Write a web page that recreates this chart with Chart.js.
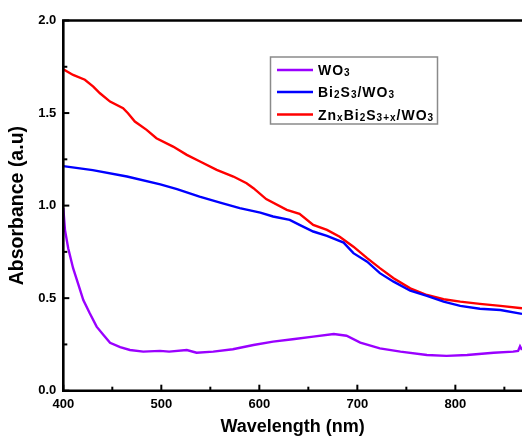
<!DOCTYPE html>
<html>
<head>
<meta charset="utf-8">
<script src="https://cdn.jsdelivr.net/npm/chart.js@4.4.1/dist/chart.umd.min.js"></script>
<style>
  html, body { margin: 0; padding: 0; background: #fff; }
  #uv { display: block; }
</style>
</head>
<body>
<canvas id="uv" width="522" height="438"></canvas>
<script>
// UV-vis absorbance spectra
const wlWO3 = [400, 401.7, 405, 410, 415, 420.4, 427, 434, 441, 447.7, 458, 468, 481.6, 498.7, 508, 526, 536, 553, 573, 594, 614, 634, 655, 676, 689, 703, 723, 744, 771, 791, 812, 839, 859, 864, 866, 868];
const absWO3 = [0.986, 0.869, 0.77, 0.662, 0.58, 0.49, 0.418, 0.346, 0.301, 0.259, 0.235, 0.22, 0.211, 0.215, 0.211, 0.22, 0.205, 0.211, 0.224, 0.247, 0.265, 0.278, 0.292, 0.306, 0.297, 0.26, 0.229, 0.211, 0.193, 0.188, 0.193, 0.205, 0.211, 0.215, 0.24, 0.22];

const wlBi = [400, 430, 465, 499, 516, 539, 560, 580, 601, 614, 631, 641, 655, 669, 686, 696, 710, 723, 737, 754, 771, 788, 805, 825, 846, 868];
const absBi = [1.213, 1.192, 1.157, 1.115, 1.089, 1.049, 1.016, 0.986, 0.962, 0.941, 0.923, 0.896, 0.86, 0.836, 0.80, 0.743, 0.697, 0.635, 0.589, 0.54, 0.512, 0.481, 0.458, 0.443, 0.436, 0.415];

const wlZn = [400, 410, 422, 430.6, 437.4, 447.7, 461, 466, 473, 485, 495, 512, 526, 539.5, 556.5, 573.5, 587, 594, 607, 628, 641, 655, 669, 682, 696, 710, 723, 737, 754, 771, 788, 805, 825, 846, 868];
const absZn = [1.737, 1.706, 1.68, 1.643, 1.607, 1.562, 1.526, 1.499, 1.454, 1.409, 1.364, 1.319, 1.274, 1.238, 1.193, 1.157, 1.121, 1.094, 1.035, 0.977, 0.955, 0.896, 0.869, 0.832, 0.778, 0.716, 0.662, 0.608, 0.553, 0.517, 0.494, 0.481, 0.469, 0.458, 0.445];

// legend text split into [text, subscript?] runs
const legendRuns = [
  [["WO", false], ["3", true]],
  [["Bi", false], ["2", true], ["S", false], ["3", true], ["/WO", false], ["3", true]],
  [["Zn", false], ["x", true], ["Bi", false], ["2", true], ["S", false], ["3+x", true], ["/WO", false], ["3", true]]
];
const lineColors = ["#9a00ff", "#0000ff", "#ff0000"];

const FONT = "'Liberation Sans', Arial, sans-serif";

function pts(xs, ys) {
  return xs.map((x, i) => ({ x: x, y: ys[i] }));
}

// frame with inward ticks
const framePlugin = {
  id: "frame",
  afterDatasetsDraw(chart) {
    const { ctx, chartArea: a, scales } = chart;
    ctx.save();
    ctx.strokeStyle = "#000";
    ctx.lineCap = "square";
    ctx.lineWidth = 2.6;
    ctx.beginPath();
    ctx.moveTo(a.right + 2, a.top);
    ctx.lineTo(a.left, a.top);
    ctx.lineTo(a.left, a.bottom);
    ctx.lineTo(a.right + 2, a.bottom);
    ctx.stroke();

    ctx.lineWidth = 2;
    ctx.lineCap = "butt";
    scales.x.ticks.forEach(t => {
      const px = scales.x.getPixelForValue(t.value);
      const len = t.value % 100 === 0 ? 6 : 4;
      ctx.beginPath();
      ctx.moveTo(px, a.bottom);
      ctx.lineTo(px, a.bottom - len);
      ctx.stroke();
    });
    scales.y.ticks.forEach(t => {
      const py = scales.y.getPixelForValue(t.value);
      const len = Math.abs(t.value * 2 - Math.round(t.value * 2)) < 1e-6 ? 6 : 4;
      ctx.beginPath();
      ctx.moveTo(a.left, py);
      ctx.lineTo(a.left + len, py);
      ctx.stroke();
    });
    ctx.restore();
  }
};

// legend box with subscripted chemical formulas
const formulaLegend = {
  id: "formulaLegend",
  afterDraw(chart) {
    const ctx = chart.ctx;
    const bx = 270.5, by = 57, bw = 167, bh = 67;
    ctx.save();
    ctx.fillStyle = "#fff";
    ctx.fillRect(bx, by, bw, bh);
    ctx.strokeStyle = "#8a8a8a";
    ctx.lineWidth = 1.5;
    ctx.strokeRect(bx, by, bw, bh);

    const rows = [70, 92, 114.5];
    legendRuns.forEach((runs, i) => {
      const y = rows[i];
      ctx.strokeStyle = lineColors[i];
      ctx.lineWidth = 2.6;
      ctx.beginPath();
      ctx.moveTo(277, y);
      ctx.lineTo(313, y);
      ctx.stroke();

      let x = 318;
      ctx.fillStyle = "#000";
      ctx.textBaseline = "alphabetic";
      ctx.textAlign = "left";
      ctx.letterSpacing = "1px";
      runs.forEach(([txt, sub]) => {
        ctx.font = "bold " + (sub ? 10 : 14) + "px " + FONT;
        ctx.fillText(txt, x, y + 5 + (sub ? 1 : 0));
        x += ctx.measureText(txt).width;
      });
    });
    ctx.restore();
  }
};

new Chart(document.getElementById("uv"), {
  type: "line",
  data: {
    datasets: [
      { label: "WO3", data: pts(wlWO3, absWO3), borderColor: lineColors[0] },
      { label: "Bi2S3/WO3", data: pts(wlBi, absBi), borderColor: lineColors[1] },
      { label: "ZnxBi2S3+x/WO3", data: pts(wlZn, absZn), borderColor: lineColors[2] }
    ]
  },
  plugins: [framePlugin, formulaLegend],
  options: {
    responsive: false,
    animation: false,
    layout: { padding: { top: 20.5, left: 0, right: 0, bottom: 0 } },
    elements: {
      point: { radius: 0 },
      line: { borderWidth: 2.4, tension: 0, fill: false }
    },
    plugins: {
      legend: { display: false },
      tooltip: { enabled: false }
    },
    scales: {
      x: {
        type: "linear",
        min: 400,
        max: 868,
        grid: { display: false, drawTicks: false },
        border: { display: false },
        ticks: {
          stepSize: 50,
          includeBounds: false,
          autoSkip: false,
          maxRotation: 0,
          padding: 6,
          color: "#000",
          font: { family: FONT, size: 13, weight: "bold" },
          callback: v => (v % 100 === 0 ? String(v) : "")
        },
        title: {
          display: true,
          text: "Wavelength (nm)",
          color: "#000",
          padding: { top: 0, bottom: 0 },
          font: { family: FONT, size: 18, weight: "bold" }
        },
        afterFit: s => { s.height = 47.3; }
      },
      y: {
        min: 0,
        max: 2,
        grid: { display: false, drawTicks: false },
        border: { display: false },
        ticks: {
          stepSize: 0.25,
          autoSkip: false,
          padding: 7,
          color: "#000",
          font: { family: FONT, size: 13, weight: "bold" },
          callback: v => (Math.abs(v * 2 - Math.round(v * 2)) < 1e-6 ? v.toFixed(1) : "")
        },
        title: {
          display: true,
          text: "Absorbance (a.u)",
          color: "#000",
          padding: { top: 6, bottom: 0 },
          font: { family: FONT, size: 19.5, weight: "bold" }
        },
        afterFit: s => { s.width = 63.3; }
      }
    }
  }
});
</script>
</body>
</html>
